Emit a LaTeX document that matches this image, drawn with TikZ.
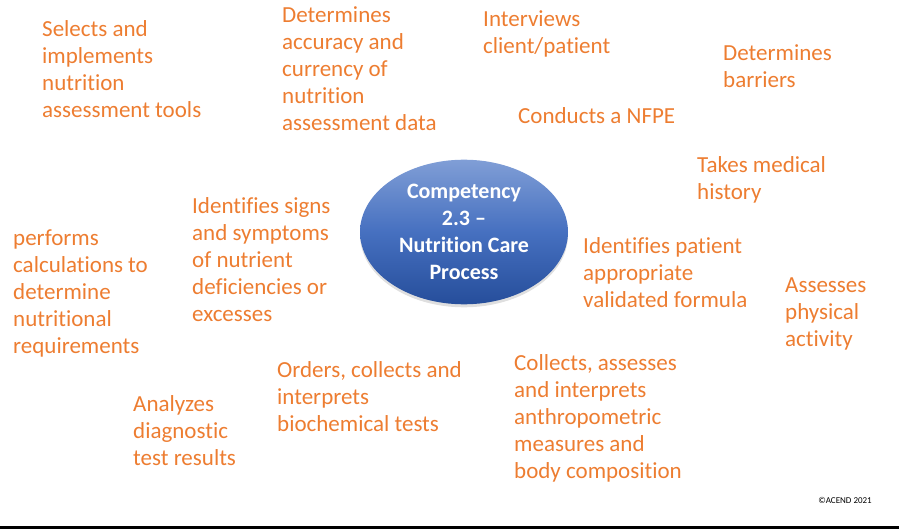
\documentclass[tikz,border=0pt]{standalone}
\usepackage{fontspec}
\setmainfont{Carlito}[Ligatures=NoCommon]
\usetikzlibrary{shapes.geometric,shadows}
\definecolor{acendorange}{RGB}{237,125,49}
\definecolor{ovaltop}{RGB}{128,158,214}
\definecolor{ovalmid}{RGB}{70,112,192}
\definecolor{ovalbottom}{RGB}{38,78,155}

\begin{document}
\begin{tikzpicture}[x=1pt,y=-1pt,
	task/.style={anchor=base west, align=left, inner sep=0pt, text=acendorange, font=\fontsize{23}{27}\selectfont},
	oval/.style={ellipse, minimum width=208pt, minimum height=130pt, top color=ovaltop, bottom color=ovalbottom, middle color=ovalmid, draw=none, drop shadow={opacity=0.25, shadow xshift=0pt, shadow yshift=-3pt}, text=white, align=center, font=\bfseries\fontsize{22}{27}\selectfont}]
	\useasboundingbox (0,0) rectangle (899,529);
	% tasks are placed by the baseline of their last line
	\node (core) at (464,232) [oval] {Competency\\2.3 --\\Nutrition Care\\Process};
	\node (tools) at (42,118) [task] {Selects and\\implements\\nutrition\\assessment tools};
	\node (accuracy) at (282,131) [task] {Determines\\accuracy and\\currency of\\nutrition\\assessment data};
	\node (interview) at (483,54) [task] {Interviews\\client/patient};
	\node (barriers) at (723,88) [task] {Determines\\barriers};
	\node (nfpe) at (518,124) [task] {Conducts a NFPE};
	\node (history) at (697,200) [task] {Takes medical\\history};
	\node (signs) at (192,321) [task] {Identifies signs\\and symptoms\\of nutrient\\deficiencies or\\excesses};
	\node (calc) at (13,353) [task] {performs\\calculations to\\determine\\nutritional\\requirements};
	\node (formula) at (583,307) [task] {Identifies patient\\appropriate\\validated formula};
	\node (activity) at (785,346) [task] {Assesses\\physical\\activity};
	\node (biochem) at (277,431) [task] {Orders, collects and\\interprets\\biochemical tests};
	\node (anthro) at (514,478) [task] {Collects, assesses\\and interprets\\anthropometric\\measures and\\body composition};
	\node (diag) at (133,465) [task] {Analyzes\\diagnostic\\test results};
	\node (credit) at (872,503) [anchor=base east, inner sep=0pt, font=\fontsize{9}{11}\selectfont] {©ACEND 2021};
	\fill (0,526) rectangle (899,529);
\end{tikzpicture}
\end{document}
